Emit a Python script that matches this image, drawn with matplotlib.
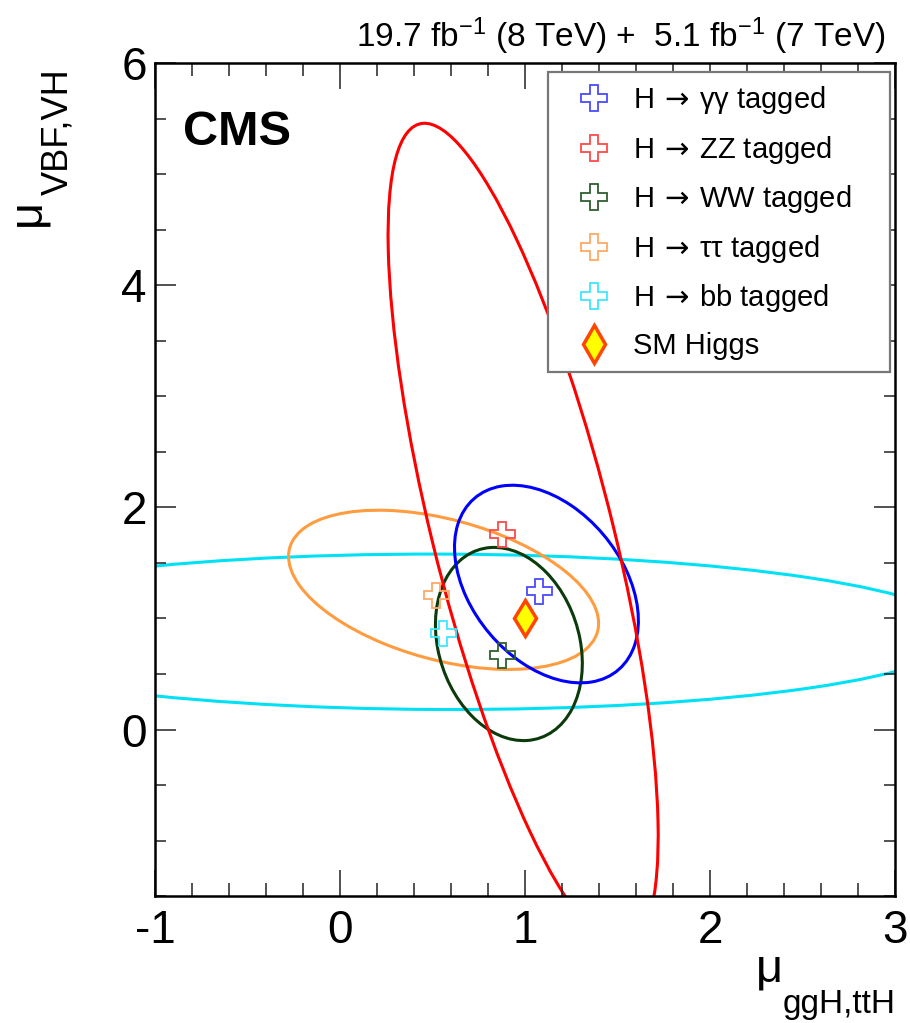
import numpy as np
import matplotlib
matplotlib.use("Agg")
import matplotlib.pyplot as plt
from matplotlib.patches import Ellipse
from matplotlib.lines import Line2D
from matplotlib.font_manager import FontProperties
from matplotlib.ticker import MultipleLocator

plt.rcParams["font.family"] = ["Liberation Sans", "DejaVu Sans"]
plt.rcParams["mathtext.fontset"] = "custom"
plt.rcParams["mathtext.rm"] = "Liberation Sans"
plt.rcParams["mathtext.sf"] = "DejaVu Sans"
plt.rcParams["mathtext.default"] = "regular"
plt.rcParams["axes.unicode_minus"] = False

# per-channel best fit and 68% CL contour (centre, widths, correlation)
channels = ["γγ", "ZZ", "WW", "ττ", "bb"]
best_x = [1.075, 0.877, 0.877, 0.52, 0.556]
best_y = [1.25, 1.76, 0.67, 1.21, 0.865]
cont_cx = [1.116, 0.99, 0.913, 0.56, 0.55]
cont_cy = [1.31, 1.75, 0.77, 1.258, 0.88]
cont_sx = [0.497, 0.73, 0.397, 0.838, 2.82]
cont_sy = [0.89, 3.71, 0.87, 0.717, 0.70]
cont_rho = [-0.37, -0.73, -0.2, -0.42, -0.02]
sm_point = (1.0, 1.0)

line_colors = ["#0000ff", "#ff0000", "#0b3a0b", "#ff9c40", "#00e1f5"]
marker_colors = ["#4a4aff", "#ff4a4a", "#2f5f2f", "#ffa865", "#3de8ff"]


def contour_ellipse(cx, cy, sx, sy, rho, **kw):
    cov = np.array([[sx**2, rho * sx * sy], [rho * sx * sy, sy**2]])
    vals, vecs = np.linalg.eigh(cov)
    angle = np.degrees(np.arctan2(vecs[1, 1], vecs[0, 1]))
    return Ellipse((cx, cy), 2 * np.sqrt(vals[1]), 2 * np.sqrt(vals[0]),
                   angle=angle, fill=False, **kw)


fig = plt.figure(figsize=(9.1, 10.23), dpi=100)
ax = fig.add_axes([0.1703, 0.1241, 0.8132, 0.8140])

draw_order = [4, 3, 2, 0, 1]
for i in draw_order:
    ax.add_patch(contour_ellipse(cont_cx[i], cont_cy[i], cont_sx[i], cont_sy[i],
                                 cont_rho[i], edgecolor=line_colors[i], lw=2.2))

for i in range(len(channels)):
    ax.plot(best_x[i], best_y[i], linestyle="none", marker="P", ms=18,
            mfc="none", mec=marker_colors[i], mew=1.3)
ax.plot(*sm_point, linestyle="none", marker="d", ms=18, mfc="#ffff00",
        mec="#ff4500", mew=2.5, zorder=5)

ax.set_xlim(-1, 3)
ax.set_ylim(-1.5, 6)
ax.xaxis.set_major_locator(MultipleLocator(1))
ax.xaxis.set_minor_locator(MultipleLocator(0.2))
ax.yaxis.set_major_locator(MultipleLocator(2))
ax.yaxis.set_minor_locator(MultipleLocator(0.5))
ax.tick_params(which="both", direction="in", top=True, right=True,
               width=1.1, color="#222222")
ax.tick_params(axis="x", which="major", length=18.5, labelsize=33, pad=9)
ax.tick_params(axis="x", which="minor", length=9.4)
ax.tick_params(axis="y", which="major", length=15, labelsize=33, pad=6)
ax.tick_params(axis="y", which="minor", length=7.6)
for sp in ax.spines.values():
    sp.set_linewidth(1.8)

# axis titles: mu with a separately sized subscript
W, H = 910.0, 1023.0
fig.text(39 / W, 1 - 226 / H, "μ", fontsize=34, rotation=90,
         rotation_mode="anchor", ha="left", va="baseline")
fig.text(67 / W, 1 - 195 / H, "VBF,VH", fontsize=26, rotation=90,
         rotation_mode="anchor", ha="left", va="baseline")
fig.text(756 / W, 1 - 982 / H, "μ", fontsize=34, ha="left", va="baseline")
fig.text(896 / W, 1 - 1013 / H, "ggH,ttH", fontsize=24, ha="right",
         va="baseline")

fig.text(886 / W, 1 - 47 / H,
         r"19.7 fb$^{-1}$ (8 TeV) +  5.1 fb$^{-1}$ (7 TeV)",
         fontsize=24, ha="right", va="baseline")
fig.text(183 / W, 1 - 145 / H, "CMS", fontsize=35, fontweight="bold",
         va="baseline")

handles = [Line2D([], [], linestyle="none", marker="P", ms=19, mfc="none",
                  mec=c, mew=1.3) for c in marker_colors]
handles.append(Line2D([], [], linestyle="none", marker="d", ms=19,
                      mfc="#ffff00", mec="#ff4500", mew=2.5))
labels = [rf"H$\,\mathsf{{\rightarrow}}\,${ch} tagged" for ch in channels]
labels.append("SM Higgs")
leg = ax.legend(handles, labels, loc="upper left", mode="expand",
                bbox_to_anchor=(548 / W, 1 - 370 / H, 342 / W, 298 / H),
                bbox_transform=fig.transFigure, borderaxespad=0,
                prop=FontProperties(family=["Liberation Sans", "DejaVu Sans"],
                                    size=21),
                handlelength=2.3, handletextpad=0.18, borderpad=0.42,
                labelspacing=0.60, fancybox=False, framealpha=1)
leg.get_frame().set_edgecolor("#777777")
leg.get_frame().set_linewidth(1.6)

fig.savefig("out.png", dpi=100)
